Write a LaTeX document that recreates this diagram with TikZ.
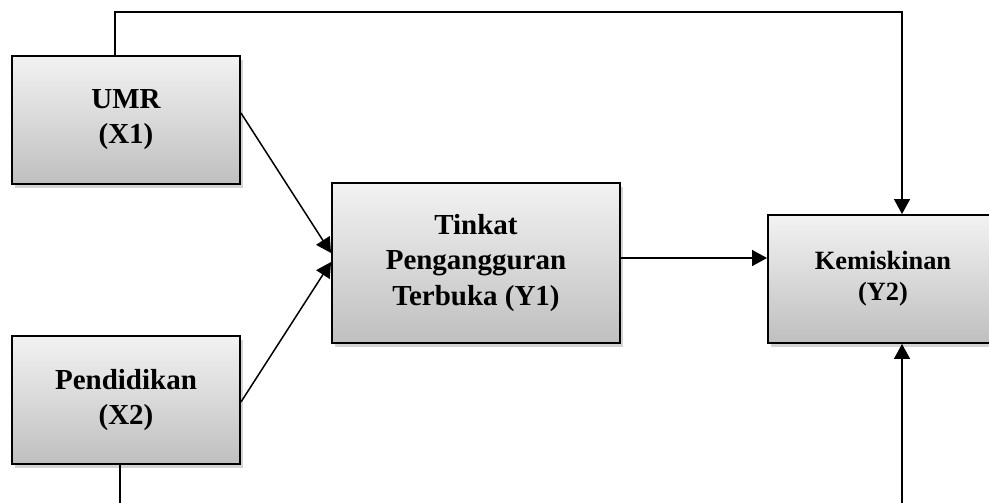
\documentclass[tikz,border=0pt]{standalone}
\usepackage{fontspec}
\setmainfont{Liberation Serif}
\usepackage{tikz}
\usetikzlibrary{arrows.meta, positioning, calc, shadows}

\tikzset{
  varbox/.style={draw=black, line width=1.1pt, top color=gray!10, bottom color=gray!50,
    align=center, inner sep=2pt,
    drop shadow={shadow xshift=0.06cm, shadow yshift=-0.07cm, opacity=0.35, fill=gray}},
  arr/.style={line width=0.85pt, -{Triangle[length=0.30cm, width=0.32cm]}}
}

\begin{document}
\begin{tikzpicture}
  \useasboundingbox (0,0) rectangle (19.78,-10.04);

  % UMR
  \node[varbox, minimum width=4.56cm, minimum height=2.56cm, font=\fontsize{16.5}{20}\bfseries] (umr) at (2.52, -2.40) {UMR\\(X1)};

  % Pendidikan
  \node[varbox, minimum width=4.56cm, minimum height=2.56cm, font=\fontsize{16.5}{20}\bfseries] (pend) at (2.52, -8.00) {Pendidikan\\(X2)};

  % Tinkat Pengangguran Terbuka
  \node[varbox, minimum width=5.76cm, minimum height=3.20cm, font=\fontsize{16.5}{20}\bfseries] (tpt) at (9.52, -5.26) {Tinkat\\Pengangguran\\Terbuka (Y1)};

  % Kemiskinan
  \node[varbox, minimum width=4.60cm, minimum height=2.56cm, font=\fontsize{15}{17.6}\bfseries] (kem) at (17.66, -5.58) {Kemiskinan\\(Y2)};

  % arrows
  \draw[arr] ([yshift=0.14cm]umr.east) -- ([yshift=0.20cm]tpt.west);
  \draw[arr] ([yshift=-0.04cm]pend.east) -- ([yshift=0.02cm]tpt.west);
  \draw[arr] ([yshift=0.10cm]tpt.east) -- ([yshift=0.10cm]tpt.east -| kem.west);
  \draw[arr] ([xshift=-0.22cm]umr.north) -- ++(0,0.86) -| ([xshift=0.38cm]kem.north);
  \draw[arr] ([xshift=-0.12cm]pend.south) -- ++(0,-1.2) -| ([xshift=0.38cm]kem.south);
\end{tikzpicture}
\end{document}
